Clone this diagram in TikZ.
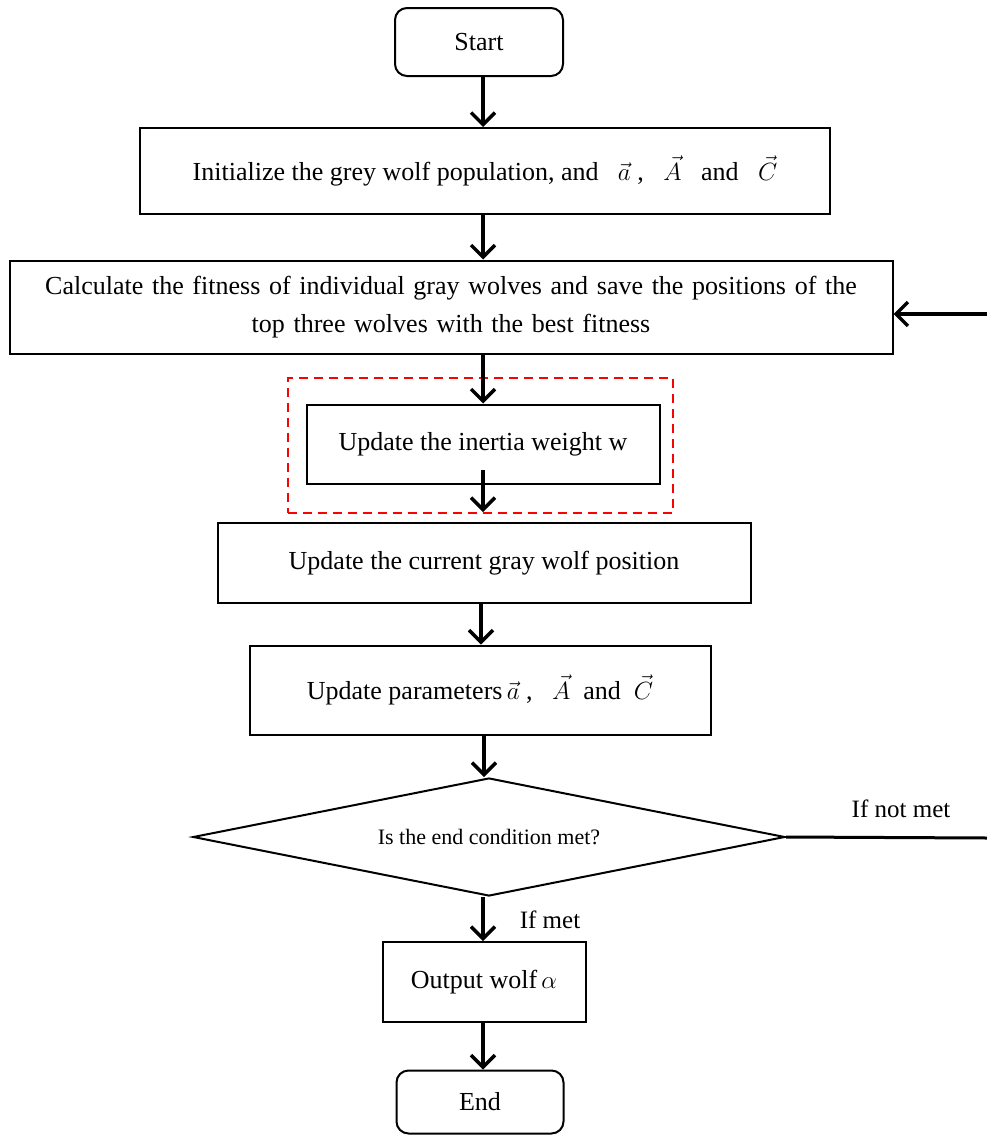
\documentclass[tikz,border=0pt]{standalone}
\usepackage{fontspec}
\setmainfont{Liberation Serif}
\usepackage{tikz}
\usetikzlibrary{arrows.meta}
\usetikzlibrary{shapes.geometric}

\tikzset{
  procbox/.style={draw,line width=2pt,inner sep=0pt,align=center},
  termbox/.style={procbox,rounded corners=12pt},
  flowarrow/.style={line width=3.5pt,-{Straight Barb[length=12pt,width=24pt,line width=3.5pt]}},
}

\begin{document}
\begin{tikzpicture}[x=1pt,y=-1pt,font=\fontsize{26}{38}\selectfont]
  \useasboundingbox (0,0) rectangle (987,1135);
  \node[termbox,minimum width=168pt,minimum height=68pt] (start) at (479,42) {Start};
  \node[procbox,minimum width=690pt,minimum height=86pt] (init) at (485,171)
    {Initialize the grey wolf population, and \ \ $\vec{a}$\ ,\ \ \ $\vec{A}$\ \ \ and\ \ \ $\vec{C}$};
  \node[procbox,minimum width=883pt,minimum height=93pt,text width=875pt] (fit) at (451,307)
    {Calculate the fitness of individual gray wolves and save the positions of the\\top three wolves with the best fitness};
  \node[draw=red,line width=2pt,dash pattern=on 9pt off 6pt,minimum width=385pt,minimum height=135pt] (mark) at (480,445) {};
  \node[procbox,minimum width=353pt,minimum height=79pt] (inertia) at (483,444) {Update the inertia weight w};
  \node[procbox,minimum width=533pt,minimum height=80pt] (current) at (484,563) {Update the current gray wolf position};
  \node[procbox,minimum width=461pt,minimum height=89pt] (params) at (480,690)
    {Update parameters\,$\vec{a}$\ ,\ \ \ $\vec{A}$\ \ and\ \ $\vec{C}$};
  \node[draw,line width=2pt,diamond,aspect=5,inner sep=0pt,minimum width=592pt,minimum height=118pt,
    font=\fontsize{22}{24}\selectfont] (cond) at (489,837) {Is the end condition met?};
  \node[procbox,minimum width=203pt,minimum height=80pt] (output) at (484,982) {Output wolf$\,\alpha$};
  \node[termbox,minimum width=167pt,minimum height=63pt] (end) at (480,1102) {End};
  \node[font=\fontsize{25}{30}\selectfont] (notmet) at (901,809) {If not met};
  \node[font=\fontsize{25}{30}\selectfont] (met) at (550,920) {If met};
  \coordinate (loopa) at (987,838);
  \coordinate (loopb) at (987,314);

  \draw[flowarrow] (start.south -| 483,0) -- (init.north -| 483,0);
  \draw[flowarrow] (init.south -| 483,0) -- (fit.north -| 483,0);
  \draw[flowarrow] (fit.south -| 483,0) -- (inertia.north -| 483,0);
  \draw[flowarrow] (483,470) -- (483,512);
  \draw[flowarrow] (current.south -| 481,0) -- (params.north -| 481,0);
  \draw[flowarrow] (params.south -| 484,0) -- (cond.north -| 484,0);
  \draw[flowarrow] (cond.south -| 483,0) -- (output.north -| 483,0);
  \draw[flowarrow] (output.south -| 483,0) -- (end.north -| 483,0);
  \draw[line width=3pt] (cond.east) -- (loopa);
  \draw[flowarrow] (loopb) -- (fit.east |- loopb);
\end{tikzpicture}
\end{document}
